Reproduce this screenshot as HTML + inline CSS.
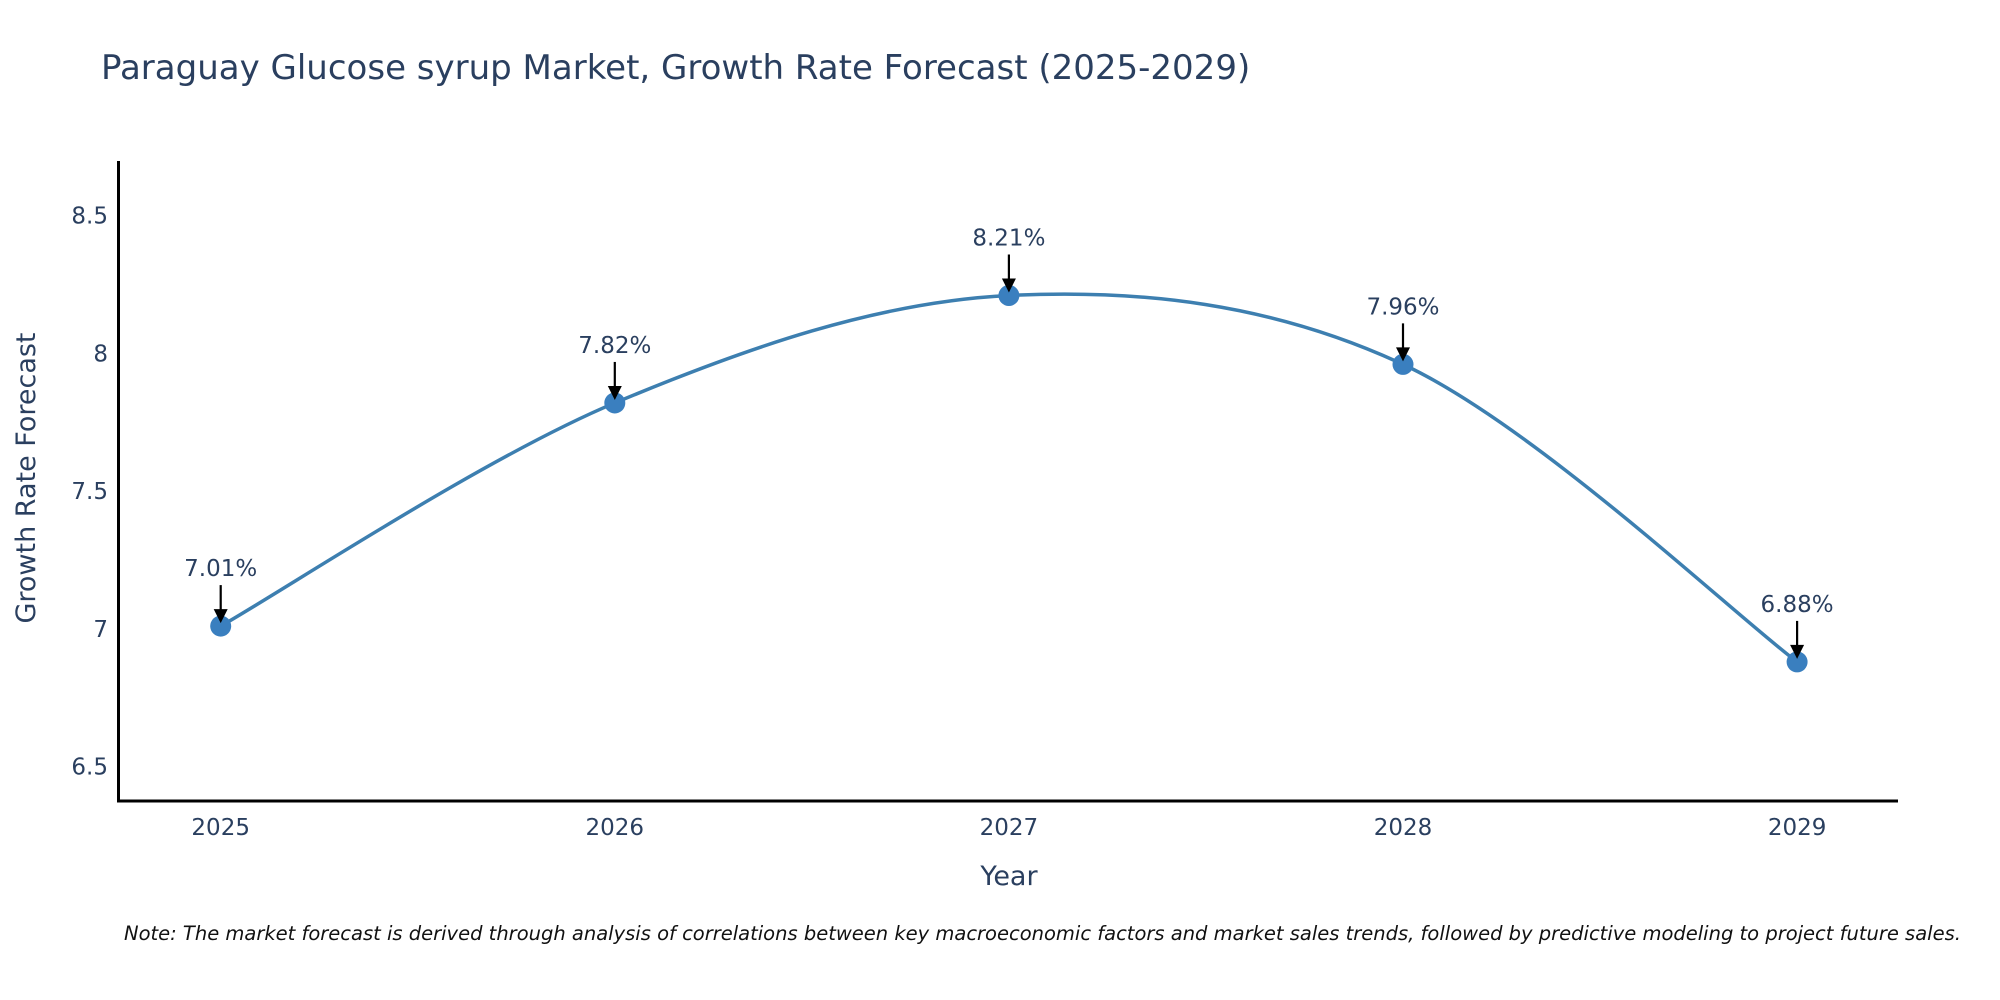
<!DOCTYPE html>
<html><head><meta charset="utf-8"><style>
body{margin:0;background:#fff;}
svg{display:block;font-family:"DejaVu Sans","Liberation Sans",sans-serif;}
</style></head><body>
<svg id="chart" width="2000" height="1000">
<text x="101" y="79" font-size="34" fill="#2a3f5f">Paraguay Glucose syrup Market, Growth Rate Forecast (2025-2029)</text>
<g id="yticks"></g><g id="xticks"></g>
<line x1="118.5" y1="161" x2="118.5" y2="802" stroke="#000" stroke-width="3"/>
<line x1="117" y1="801" x2="1898" y2="801" stroke="#000" stroke-width="3"/>
<path id="line" fill="none" stroke="#3d7fb0" stroke-width="3.5"/>
<g id="marks"></g>
<text x="1009" y="885" font-size="27" fill="#2a3f5f" text-anchor="middle">Year</text>
<text transform="translate(35,478) rotate(-90)" font-size="27" fill="#2a3f5f" text-anchor="middle">Growth Rate Forecast</text>
<text x="124" y="940" font-size="19.5" font-style="italic" fill="#111">Note: The market forecast is derived through analysis of correlations between key macroeconomic factors and market sales trends, followed by predictive modeling to project future sales.</text>
</svg>
<script>
const years=["2025","2026","2027","2028","2029"];
const values=[7.01,7.82,8.21,7.96,6.88];
const yTicks=[6.5,7,7.5,8,8.5];
const yTickLabels=["6.5","7","7.5","8","8.5"];
const NS="http://www.w3.org/2000/svg";
function xs(i){return 220.7+i*394.1;}
function ys(v){return 766.6-(v-6.5)*275.5;}
function mk(t,a,p){const e=document.createElementNS(NS,t);for(const k in a)e.setAttribute(k,a[k]);p.appendChild(e);return e;}
const yg=document.getElementById('yticks');
yTicks.forEach((v,i)=>{const t=mk('text',{x:108,y:ys(v)+8,'font-size':23,fill:'#2a3f5f','text-anchor':'end'},yg);


t.textContent=yTickLabels[i];});
const xg=document.getElementById('xticks');
years.forEach((y,i)=>{const t=mk('text',{x:xs(i),y:835,'font-size':23,fill:'#2a3f5f','text-anchor':'middle'},xg);


t.textContent=y;});
const P=values.map((v,i)=>[xs(i),ys(v)]);
let d='M'+P[0][0]+','+P[0][1];
for(let i=0;i<P.length-1;i++){const p0=P[i-1]||P[i],p1=P[i],p2=P[i+1],p3=P[i+2]||P[i+1];const s=1/6;
d+=' C'+(p1[0]+(p2[0]-p0[0])*s)+','+(p1[1]+(p2[1]-p0[1])*s)+' '+(p2[0]-(p3[0]-p1[0])*s)+','+(p2[1]-(p3[1]-p1[1])*s)+' '+p2[0]+','+p2[1];}
document.getElementById('line').setAttribute('d',d);
const mg=document.getElementById('marks');
P.forEach((p,i)=>{const c=mk('circle',{cx:p[0],cy:p[1],r:10.5,fill:'#3a7fbf'},mg);


const l=mk('line',{x1:p[0],y1:p[1]-41,x2:p[0],y2:p[1]-14,stroke:'#000','stroke-width':2.2},mg);


const h=mk('path',{d:`M${p[0]-7},${p[1]-17} L${p[0]+7},${p[1]-17} L${p[0]},${p[1]-3} Z`,fill:'#000'},mg);


const t=mk('text',{x:p[0],y:p[1]-50,'font-size':23,fill:'#2a3f5f','text-anchor':'middle'},mg);


t.textContent=values[i].toFixed(2)+'%';});
</script>
</body></html>
